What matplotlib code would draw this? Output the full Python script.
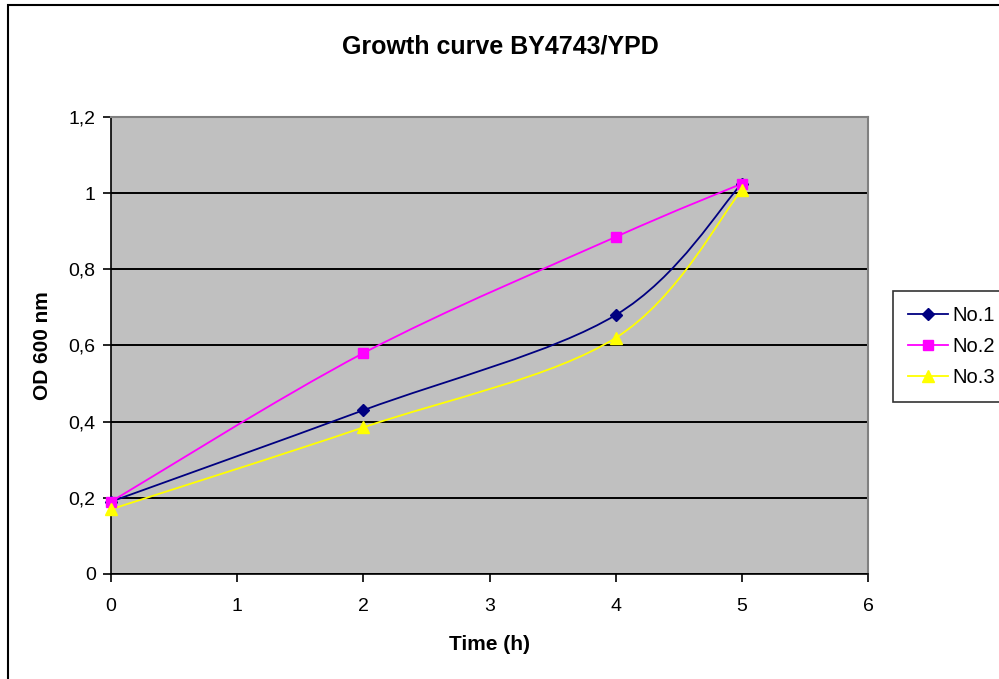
import numpy as np
import matplotlib.pyplot as plt
from matplotlib.path import Path
from matplotlib.patches import PathPatch, Rectangle
from matplotlib.lines import Line2D
from matplotlib.ticker import FuncFormatter, MultipleLocator

plt.rcParams['font.family'] = ['Liberation Sans', 'DejaVu Sans']

TIME = [0, 2, 4, 5]
NO1 = [0.19, 0.43, 0.68, 1.025]
NO2 = [0.19, 0.58, 0.885, 1.025]
NO3 = [0.17, 0.385, 0.62, 1.008]
NAMES = ['No.1', 'No.2', 'No.3']


def smooth_path(x, y):
  '''
  Excel-like smoothed line: cubic Bezier through the points
  '''
  pts = np.column_stack([x, y]).astype(float)
  ext = np.vstack([pts[0], pts, pts[-1]])
  verts = [pts[0]]
  codes = [Path.MOVETO]
  for i in range(len(pts) - 1):
    p0, p1, p2, p3 = ext[i], ext[i + 1], ext[i + 2], ext[i + 3]
    verts += [p1 + (p2 - p0) / 6, p2 - (p3 - p1) / 6, p2]
    codes += [Path.CURVE4] * 3
  return Path(verts, codes)


fig = plt.figure(figsize=(9.99, 6.79), dpi=100)
ax = fig.add_axes([111/999, 105/679, 757/999, 457/679])
ax.set_facecolor('#C0C0C0')

styles = [('#000080', 'D', 6.5), ('#FF00FF', 's', 7.5), ('#FFFF00', '^', 8.5)]
handles = []
for yv, name, (col, mk, ms) in zip([NO1, NO2, NO3], NAMES, styles):
  ax.add_patch(PathPatch(smooth_path(TIME, yv), facecolor='none', edgecolor=col, lw=1.3, zorder=3))
  ax.plot(TIME, yv, ls='none', marker=mk, color=col, ms=ms, zorder=4, clip_on=False)
  handles.append(Line2D([], [], color=col, lw=1.3, marker=mk, ms=ms, label=name))

ax.set_xlim(0, 6)
ax.set_ylim(0, 1.2)
ax.xaxis.set_major_locator(MultipleLocator(1))
ax.yaxis.set_major_locator(MultipleLocator(0.2))
ax.yaxis.set_major_formatter(FuncFormatter(lambda v, p: f'{v:g}'.replace('.', ',')))
ax.grid(axis='y', color='black', lw=1.4)
ax.set_axisbelow(True)
ax.tick_params(direction='out', length=6, width=1.2, labelsize=14, colors='black')
ax.tick_params(axis='y', pad=5)
ax.tick_params(axis='x', pad=11)
for s in ['top', 'right']:
  ax.spines[s].set_color('#808080')
  ax.spines[s].set_linewidth(1.5)
for s in ['left', 'bottom']:
  ax.spines[s].set_color('black')
  ax.spines[s].set_linewidth(1.2)

ax.set_xlabel('Time (h)', fontsize=15, fontweight='bold', va='center')
ax.set_ylabel('OD 600 nm', fontsize=15, fontweight='bold', va='center')
ax.xaxis.set_label_coords(0.5, (679 - 645 - 105) / 457)
ax.yaxis.set_label_coords((43 - 111) / 757, 0.5)
fig.text(500/999, 1 - 46/679, 'Growth curve BY4743/YPD', ha='center', va='center',
         fontsize=18, fontweight='bold')

leg = fig.legend(handles=handles, loc='upper left', bbox_to_anchor=(893/999, 1 - 291/679),
                 fontsize=14.5, frameon=True, fancybox=False, edgecolor='black',
                 borderpad=0.75, handlelength=2.0, handletextpad=0.2, labelspacing=0.6,
                 borderaxespad=0)
leg.get_frame().set_linewidth(1.2)

fig.patches.append(Rectangle((8/999, -0.1), 1.2, 1.1 - 5/679, transform=fig.transFigure,
                             fill=False, edgecolor='black', lw=1.5))

fig.savefig('out.png', dpi=100)
